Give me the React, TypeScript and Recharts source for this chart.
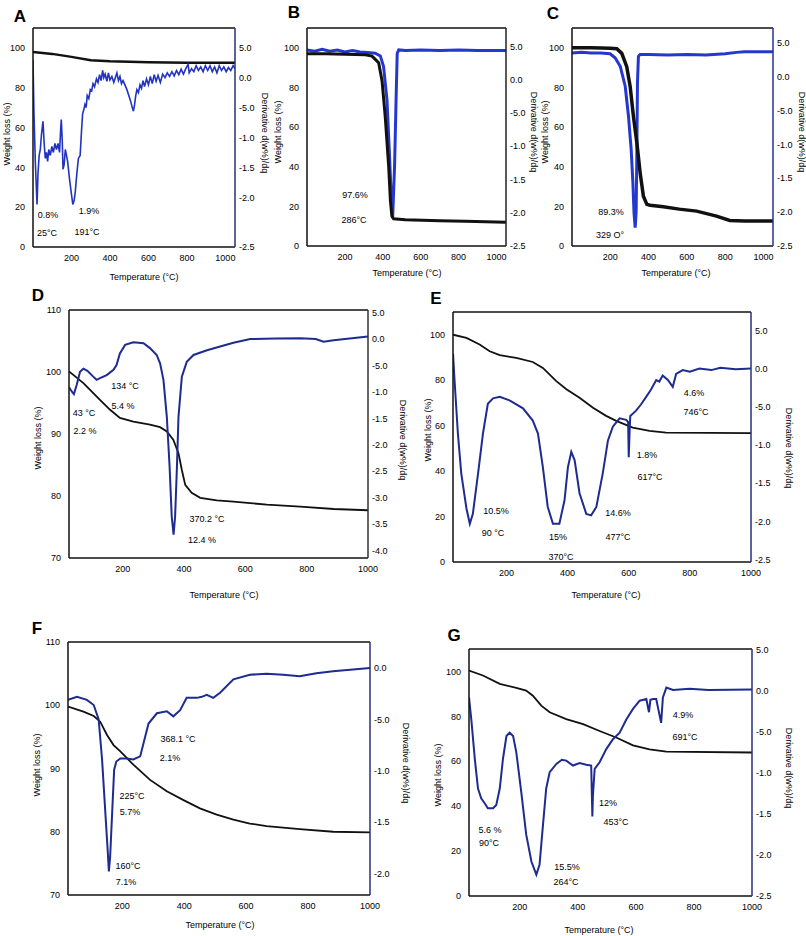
import React from "react";
import { ComposedChart, Line, XAxis, YAxis, ReferenceLine } from "recharts";

// ---- Panel A ----
const aTgaT = [0, 100, 200, 300, 400, 600, 800, 1050];
const aTgaW = [98, 97, 95.5, 93.8, 93.3, 92.8, 92.5, 92.5];
const aDtgT = [0, 5, 12, 21, 26, 32, 38, 44, 52, 58, 64, 70, 76, 82, 90, 98, 106, 114, 122, 130, 138, 144, 147, 152, 156, 162, 168, 180, 190, 200, 207, 214, 220, 228, 236, 245, 252, 258, 263, 270, 276, 282, 290, 298, 305, 312, 320, 330, 338, 346, 354, 362, 368, 375, 384, 392, 400, 410, 420, 428, 436, 444, 452, 460, 468, 478, 488, 498, 508, 516, 522, 528, 534, 540, 548, 556, 564, 572, 580, 590, 600, 610, 620, 630, 640, 650, 662, 674, 686, 698, 710, 722, 734, 746, 758, 770, 782, 794, 806, 812, 824, 836, 848, 860, 872, 884, 896, 908, 920, 932, 944, 956, 968, 980, 992, 1004, 1016, 1028, 1040, 1050];
const aDtgV = [0.3, -0.6, -1.4, -2.12, -1.6, -1.3, -1.2, -0.95, -0.73, -1.1, -1.35, -1.25, -1.4, -1.2, -1.3, -1.15, -1.25, -1.1, -1.2, -1.1, -1.25, -0.85, -0.7, -1.05, -1.53, -1.45, -1.2, -1.4, -1.7, -1.95, -2.12, -2.05, -1.9, -1.6, -1.35, -1.3, -0.9, -0.6, -0.55, -0.45, -0.5, -0.3, -0.35, -0.2, -0.22, -0.1, -0.15, -0.02, -0.08, 0.05, -0.05, 0.12, 0.0, 0.06, -0.06, 0.08, -0.04, 0.02, -0.08, 0.0, 0.08, -0.05, 0.02, -0.1, -0.05, -0.12, -0.2, -0.3, -0.4, -0.5, -0.56, -0.45, -0.3, -0.2, -0.25, -0.12, -0.18, -0.05, -0.15, -0.02, -0.12, 0.02, -0.1, 0.05, -0.06, 0.04, -0.08, 0.06, 0.0, 0.08, 0.02, 0.1, 0.03, 0.12, 0.05, 0.14, 0.06, 0.15, 0.22, 0.08, 0.15, 0.1, 0.2, 0.12, 0.18, 0.1, 0.2, 0.12, 0.2, 0.1, 0.18, 0.08, 0.2, 0.12, 0.18, 0.1, 0.17, 0.12, 0.2, 0.15];

// ---- Panel B ----
const bTgaT = [0, 100, 200, 308, 343, 378, 396, 413, 431, 440, 448, 457, 519, 700, 835, 1050];
const bTgaW = [97, 97, 96.8, 96.5, 95.8, 92.5, 83.3, 65, 40, 23, 15, 13.7, 13.3, 12.8, 12.5, 12];
const bDtgT = [0, 40, 80, 120, 160, 200, 240, 280, 320, 360, 387, 404, 422, 434, 445, 452, 462, 470, 476, 484, 520, 600, 700, 800, 900, 1050];
const bDtgV = [0.45, 0.43, 0.46, 0.43, 0.45, 0.42, 0.44, 0.42, 0.41, 0.4, 0.36, 0.2, -0.3, -1.05, -1.8, -2.07, -1.3, -0.3, 0.4, 0.45, 0.44, 0.45, 0.44, 0.45, 0.44, 0.44];

// ---- Panel C ----
const cTgaT = [0, 100, 200, 234, 260, 286, 304, 321, 339, 356, 373, 391, 408, 477, 560, 651, 755, 824, 900, 1050];
const cTgaW = [100, 100, 99.8, 99.5, 97.2, 90.5, 80.4, 65.3, 52, 36.9, 25.1, 21, 20.6, 19.8, 18.6, 17.6, 15.1, 12.9, 12.6, 12.6];
const cDtgT = [0, 50, 100, 150, 199, 225, 252, 278, 295, 309, 318, 324, 330, 335, 339, 342, 347, 356, 400, 500, 600, 700, 800, 859, 900, 1050];
const cDtgV = [0.35, 0.36, 0.35, 0.35, 0.34, 0.28, 0.155, -0.14, -0.58, -1.07, -1.56, -2.01, -2.23, -2.0, -1.07, -0.09, 0.3, 0.33, 0.33, 0.32, 0.33, 0.32, 0.34, 0.36, 0.37, 0.37];

// ---- Panel D ----
const dTgaT = [25, 72, 126, 159, 191, 235, 289, 322, 344, 365, 382, 393, 404, 425, 453, 507, 561, 670, 779, 888, 1000];
const dTgaW = [100.1, 98.2, 95.5, 93.9, 92.6, 92.0, 91.5, 91.1, 90.4, 89.1, 86.9, 84.2, 81.8, 80.5, 79.7, 79.3, 79.1, 78.6, 78.3, 77.9, 77.7];
const dDtgT = [25, 34, 41, 50, 61, 72, 85, 104, 115, 126, 148, 170, 180, 191, 208, 235, 268, 289, 311, 322, 333, 344, 353, 360, 366, 371, 377, 382, 393, 409, 431, 475, 561, 616, 700, 779, 830, 855, 888, 1000];
const dDtgV = [-0.91, -0.99, -1.04, -0.87, -0.62, -0.56, -0.6, -0.71, -0.77, -0.74, -0.68, -0.58, -0.49, -0.27, -0.11, -0.06, -0.08, -0.17, -0.3, -0.46, -0.77, -1.47, -2.41, -3.36, -3.7, -3.36, -2.41, -1.47, -0.71, -0.43, -0.3, -0.21, -0.07, 0.0, 0.01, 0.016, 0.0, -0.05, -0.02, 0.05];

// ---- Panel E ----
const eTgaT = [25, 69, 112, 145, 178, 232, 286, 319, 363, 396, 439, 483, 526, 559, 613, 668, 722, 1000];
const eTgaW = [100, 98.6, 95.7, 92.7, 91, 89.8, 88, 85.4, 79.6, 76, 72.3, 67.9, 64.3, 62.1, 59.1, 57.7, 56.9, 56.7];
const eDtgT = [25, 30, 41, 52, 69, 80, 90, 107, 123, 139, 156, 178, 210, 254, 286, 303, 319, 335, 352, 373, 390, 401, 412, 423, 439, 461, 477, 494, 515, 532, 548, 570, 592, 598, 600, 603, 605, 624, 640, 657, 672, 690, 700, 711, 728, 744, 755, 777, 800, 831, 870, 900, 950, 1000];
const eDtgV = [0.195, -0.15, -0.85, -1.37, -1.83, -2.03, -1.9, -1.37, -0.85, -0.46, -0.39, -0.37, -0.415, -0.52, -0.68, -0.85, -1.29, -1.81, -2.03, -2.03, -1.72, -1.29, -1.09, -1.2, -1.63, -1.9, -1.92, -1.81, -1.37, -0.94, -0.76, -0.65, -0.67, -0.7, -1.16, -0.8, -0.62, -0.55, -0.47, -0.37, -0.28, -0.15, -0.17, -0.09, -0.15, -0.24, -0.07, -0.02, -0.04, 0.0, -0.02, 0.01, -0.01, 0.0];

// ---- Panel F ----
const fTgaT = [25, 75, 108, 129, 151, 172, 194, 236, 290, 344, 398, 451, 505, 559, 612, 666, 773, 881, 1000];
const fTgaW = [99.8, 99.0, 98.3, 97.4, 95.3, 93.7, 92.7, 90.6, 88.2, 86.4, 85.0, 83.7, 82.7, 81.9, 81.3, 80.9, 80.4, 80.0, 79.9];
const fDtgT = [25, 54, 86, 108, 124, 135, 145, 153, 157, 161, 168, 174, 181, 194, 215, 236, 258, 269, 285, 312, 344, 365, 387, 408, 441, 457, 473, 494, 516, 559, 612, 666, 720, 773, 827, 881, 1000];
const fDtgV = [-0.31, -0.28, -0.31, -0.36, -0.5, -0.89, -1.38, -1.77, -1.98, -1.84, -1.38, -0.99, -0.91, -0.88, -0.88, -0.89, -0.86, -0.73, -0.54, -0.44, -0.42, -0.47, -0.41, -0.29, -0.29, -0.28, -0.26, -0.29, -0.24, -0.11, -0.065, -0.055, -0.065, -0.08, -0.05, -0.03, 0.0];

// ---- Panel G ----
const gTgaT = [25, 73, 131, 188, 222, 245, 274, 303, 360, 418, 475, 532, 590, 647, 705, 1000];
const gTgaW = [100.4, 98.2, 94.5, 92.7, 91.5, 89.2, 84.8, 81.8, 78.8, 76.5, 73.5, 70.6, 67.1, 65.3, 64.3, 63.9];
const gDtgT = [25, 33, 45, 56, 67, 79, 90, 108, 119, 131, 142, 154, 165, 177, 188, 205, 222, 240, 257, 268, 280, 291, 303, 326, 345, 360, 383, 406, 429, 446, 450, 452, 458, 475, 498, 521, 544, 567, 590, 613, 636, 645, 650, 659, 670, 687, 693, 705, 728, 785, 850, 1000];
const gDtgV = [-0.08, -0.35, -0.83, -1.19, -1.31, -1.37, -1.43, -1.43, -1.39, -1.19, -0.83, -0.55, -0.51, -0.55, -0.75, -1.23, -1.75, -2.08, -2.24, -2.12, -1.63, -1.19, -0.99, -0.89, -0.84, -0.85, -0.91, -0.88, -0.9, -0.91, -1.53, -1.27, -0.95, -0.87, -0.71, -0.59, -0.51, -0.35, -0.22, -0.12, -0.1, -0.26, -0.11, -0.1, -0.1, -0.39, -0.08, 0.04, 0.01, 0.025, 0.01, 0.017];

// tick sets
const ticks0to100 = [0, 20, 40, 60, 80, 100];
const ticks70to110 = [70, 80, 90, 100, 110];
const tempTicks = [200, 400, 600, 800, 1000];
const dtgTicksStd = [0.5, 0, -0.5, -1, -1.5, -2, -2.5];
const dtgLabelsStd = ["5.0", "0.0", "-5.0", "-1.0", "-1.5", "-2.0", "-2.5"];
const dtgTicksA = [0.5, 0, -0.5, -1, -1.5, -2, -2.83];
const dtgTicksD = [0.5, 0, -0.5, -1, -1.5, -2, -2.5, -3, -3.5, -4];
const dtgLabelsD = ["5.0", "0.0", "-5.0", "-1.0", "-1.5", "-2.0", "-2.5", "-3.0", "-3.5", "-4.0"];
const dtgTicksF = [0, -0.5, -1, -1.5, -2];
const dtgLabelsF = ["0.0", "-5.0", "-1.0", "-1.5", "-2.0"];

const zipTga = (t: number[], w: number[]) => t.map((x, i) => ({ t: x, w: w[i] }));
const zipDtg = (t: number[], v: number[]) => t.map((x, i) => ({ t: x, v: v[i] }));

const FONT = '"Liberation Sans", Arial, sans-serif';
const AXW = 30;
const MT = 6;
const XAH = 20;

interface PanelProps {
  rect: [number, number, number, number];
  tga: { t: number; w: number }[];
  dtg: { t: number; v: number }[];
  xDomain: [number, number];
  yDomain: [number, number];
  yTicks: number[];
  rDomain: [number, number];
  rTicks: number[];
  rLabels: string[];
  blue: string;
  rightAxis: string;
  tgaWidth: number;
  dtgWidth: number;
  dtgBelow?: boolean;
}

const Panel = ({ rect, tga, dtg, xDomain, yDomain, yTicks, rDomain, rTicks, rLabels, blue, rightAxis, tgaWidth, dtgWidth, dtgBelow }: PanelProps) => {
  const [x, y, w, h] = rect;
  const tick = { fontSize: 9, fill: "#000", fontFamily: FONT };
  const tgaLine = (
    <Line key="tga" data={tga} dataKey="w" yAxisId="left" type="linear" stroke="#111" strokeWidth={tgaWidth} dot={false} isAnimationActive={false} />
  );
  const dtgLine = (
    <Line key="dtg" data={dtg} dataKey="v" yAxisId="right" type="linear" stroke={blue} strokeWidth={dtgWidth} dot={false} isAnimationActive={false} />
  );
  return (
    <div style={{ position: "absolute", left: x - AXW, top: y - MT }}>
      <ComposedChart width={w + 2 * AXW} height={h + MT + XAH} margin={{ top: MT, right: 0, bottom: 0, left: 0 }}>
        <XAxis type="number" dataKey="t" domain={xDomain} ticks={tempTicks} interval={0} allowDataOverflow height={XAH}
          tickLine={false} axisLine={{ stroke: "#111", strokeWidth: 1.5 }} tick={tick} />
        <YAxis yAxisId="left" type="number" domain={yDomain} ticks={yTicks} interval={0} allowDataOverflow width={AXW}
          tickLine={false} axisLine={{ stroke: "#111", strokeWidth: 1.5 }} tick={tick} />
        <YAxis yAxisId="right" orientation="right" type="number" domain={rDomain} ticks={rTicks} interval={0} allowDataOverflow width={AXW}
          tickLine={false} tickSize={2} axisLine={{ stroke: rightAxis, strokeWidth: 1.5 }} tick={tick}
          tickFormatter={(v: number) => rLabels[rTicks.indexOf(v)] ?? ""} />
        <ReferenceLine yAxisId="left" y={yDomain[1]} stroke="#111" strokeWidth={1.5} />
        {dtgBelow ? [dtgLine, tgaLine] : [tgaLine, dtgLine]}
      </ComposedChart>
    </div>
  );
};

const Txt = ({ x, y, text, size = 9, rot = 0, bold = false, color = "#000" }: { x: number; y: number; text: string; size?: number; rot?: number; bold?: boolean; color?: string }) => (
  <div style={{
    position: "absolute", left: x, top: y, transform: `translate(-50%, -50%) rotate(${rot}deg)`,
    whiteSpace: "nowrap", fontSize: size, fontFamily: FONT, fontWeight: bold ? 700 : 400, color, lineHeight: 1,
  }}>{text}</div>
);

const annotations: [string, number, number][] = [
  ["0.8%", 48, 215], ["25°C", 47, 233], ["1.9%", 89, 211], ["191°C", 87, 232],
  ["97.6%", 355, 195], ["286°C", 354, 220],
  ["89.3%", 611, 212], ["329 O°", 610, 235],
  ["134 °C", 125, 386], ["5.4 %", 123, 406], ["43 °C", 84, 413], ["2.2 %", 85, 431], ["370.2 °C", 207, 519], ["12.4 %", 202, 540],
  ["10.5%", 496, 511], ["90 °C", 493, 533], ["15%", 558, 537], ["370°C", 561, 557], ["14.6%", 618, 513], ["477°C", 618, 537],
  ["1.8%", 647, 455], ["617°C", 650, 477], ["4.6%", 694, 393], ["746°C", 696, 412],
  ["368.1 °C", 178, 739], ["2.1%", 170, 758], ["225°C", 132, 796], ["5.7%", 130, 812], ["160°C", 128, 866], ["7.1%", 126, 882],
  ["5.6 %", 490, 830], ["90°C", 489, 843], ["15.5%", 567, 867], ["264°C", 566, 882], ["12%", 608, 803], ["453°C", 616, 822],
  ["4.9%", 683, 715], ["691°C", 685, 737],
];

const letters: [string, number, number][] = [
  ["A", 20, 16], ["B", 294, 12], ["C", 553, 13], ["D", 38, 295], ["E", 436, 298], ["F", 37, 628], ["G", 454, 635],
];

const weightLabels: [number, number][] = [[7, 134], [278, 132], [545, 132], [38, 438], [428, 430], [37, 765], [438, 775]];
const derivLabels: [number, number][] = [[264, 133], [533, 132], [801, 132], [402, 440], [788, 448], [405, 763], [788, 768]];
const tempLabels: [number, number][] = [[144, 277], [407, 273], [676, 273], [224, 595], [606, 595], [220, 925], [599, 930]];

export default function App() {
  const navy = "#1e2b8f";
  return (
    <div style={{ position: "absolute", left: 0, top: 0, width: 806, height: 936, background: "#fff", overflow: "hidden" }}>
      <Panel rect={[33, 28, 202, 219]} tga={zipTga(aTgaT, aTgaW)} dtg={zipDtg(aDtgT, aDtgV)} xDomain={[0, 1050]}
        yDomain={[0, 110]} yTicks={ticks0to100} rDomain={[-2.83, 0.83]} rTicks={dtgTicksA} rLabels={dtgLabelsStd}
        blue="#2233c0" rightAxis="#2a2f7a" tgaWidth={2.5} dtgWidth={1.6} />
      <Panel rect={[307, 28, 199, 218]} tga={zipTga(bTgaT, bTgaW)} dtg={zipDtg(bDtgT, bDtgV)} xDomain={[0, 1050]}
        yDomain={[0, 110]} yTicks={ticks0to100} rDomain={[-2.5, 0.78]} rTicks={dtgTicksStd} rLabels={dtgLabelsStd}
        blue="#2438d0" rightAxis="#222" tgaWidth={3} dtgWidth={3} dtgBelow />
      <Panel rect={[572, 28, 201, 218]} tga={zipTga(cTgaT, cTgaW)} dtg={zipDtg(cDtgT, cDtgV)} xDomain={[0, 1050]}
        yDomain={[0, 110]} yTicks={ticks0to100} rDomain={[-2.5, 0.72]} rTicks={dtgTicksStd} rLabels={dtgLabelsStd}
        blue="#2438d0" rightAxis="#2a2f9a" tgaWidth={3.5} dtgWidth={3} dtgBelow />
      <Panel rect={[69, 310, 299, 248]} tga={zipTga(dTgaT, dTgaW)} dtg={zipDtg(dDtgT, dDtgV)} xDomain={[25, 1000]}
        yDomain={[70, 110]} yTicks={ticks70to110} rDomain={[-4.14, 0.55]} rTicks={dtgTicksD} rLabels={dtgLabelsD}
        blue={navy} rightAxis="#333" tgaWidth={1.8} dtgWidth={2} />
      <Panel rect={[453, 312, 298, 250]} tga={zipTga(eTgaT, eTgaW)} dtg={zipDtg(eDtgT, eDtgV)} xDomain={[25, 1000]}
        yDomain={[0, 110]} yTicks={ticks0to100} rDomain={[-2.53, 0.74]} rTicks={dtgTicksStd} rLabels={dtgLabelsStd}
        blue={navy} rightAxis="#2a2f7a" tgaWidth={1.8} dtgWidth={2} />
      <Panel rect={[68, 642, 302, 253]} tga={zipTga(fTgaT, fTgaW)} dtg={zipDtg(fDtgT, fDtgV)} xDomain={[25, 1000]}
        yDomain={[70, 110]} yTicks={ticks70to110} rDomain={[-2.21, 0.254]} rTicks={dtgTicksF} rLabels={dtgLabelsF}
        blue={navy} rightAxis="#2a2f7a" tgaWidth={1.8} dtgWidth={2} />
      <Panel rect={[469, 649, 283, 247]} tga={zipTga(gTgaT, gTgaW)} dtg={zipDtg(gDtgT, gDtgV)} xDomain={[25, 1000]}
        yDomain={[0, 110]} yTicks={ticks0to100} rDomain={[-2.5, 0.51]} rTicks={dtgTicksStd} rLabels={dtgLabelsStd}
        blue={navy} rightAxis="#2a2f7a" tgaWidth={1.8} dtgWidth={2} />

      {annotations.map(([t, x, y], i) => <Txt key={"an" + i} x={x} y={y} text={t} />)}
      {letters.map(([t, x, y]) => <Txt key={"l" + t} x={x} y={y} text={t} size={17} bold />)}
      {weightLabels.map(([x, y], i) => <Txt key={"w" + i} x={x} y={y} text="Weight loss (%)" rot={-90} />)}
      {derivLabels.map(([x, y], i) => <Txt key={"d" + i} x={x} y={y} text="Derivative d(w%)/dq" rot={90} />)}
      {tempLabels.map(([x, y], i) => <Txt key={"t" + i} x={x} y={y} text="Temperature (°C)" />)}
    </div>
  );
}
